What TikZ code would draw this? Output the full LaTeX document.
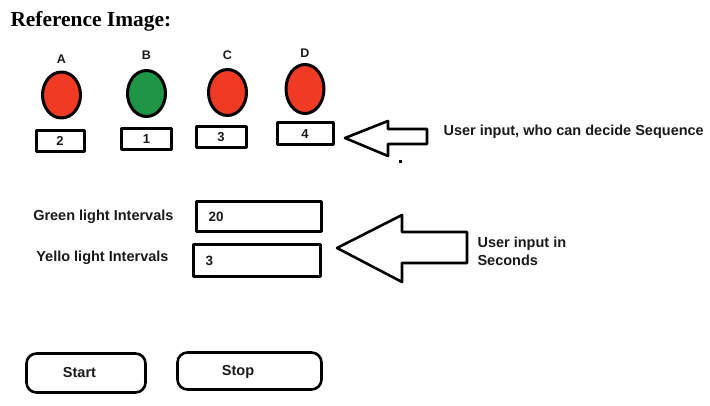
\documentclass[tikz,border=0pt]{standalone}
\usepackage{fontspec}
\setmainfont{Liberation Sans}
\newfontfamily\titlefont{Liberation Serif}
\usetikzlibrary{shapes.geometric,positioning}
\definecolor{lampred}{HTML}{F03A24}
\definecolor{lampgreen}{HTML}{1E9447}
\definecolor{ink}{HTML}{1A1A1A}

\begin{document}
\begin{tikzpicture}[x=1pt, y=-1pt, on grid, line join=round, text=ink,
   lamp/.style={ellipse, draw=black, line width=3pt, minimum width=38pt, minimum height=46pt, inner sep=0pt},
   lamplbl/.style={font=\fontsize{12.5}{14}\selectfont\bfseries},
   seqbox/.style={rectangle, draw=black, line width=3pt, minimum width=50pt, minimum height=21pt, inner sep=0pt, font=\fontsize{13}{15}\selectfont\bfseries},
   field/.style={rectangle, draw=black, line width=3pt, text width=101pt, inner xsep=12pt, inner ysep=0pt, minimum height=30pt, align=left, font=\fontsize{13.5}{15}\selectfont\bfseries},
   txt/.style={font=\fontsize{14.5}{17.4}\selectfont\bfseries, align=left},
   btn/.style={rectangle, rounded corners=10pt, draw=black, line width=2.6pt, inner sep=0pt},
   bigarrow/.style={draw=black, line width=2.6pt, fill=white}]
   \useasboundingbox (0,0) rectangle (710,406);

   \node[anchor=base west, text=black, font=\titlefont\bfseries\fontsize{21.4}{24}\selectfont] (title) at (7,27) {Reference Image:};

   \node[lamp, fill=lampred]   (l_A) at (61.5,95)  {};
   \node[lamp, fill=lampgreen] (l_B) at (146.5,93.5) {};
   \node[lamp, fill=lampred]   (l_C) at (227.5,92.5) {};
   \node[lamp, fill=lampred, minimum height=49pt] (l_D) at (305,89) {};
   \node[lamplbl] (t_A) [above=36pt of l_A] {A};
   \node[lamplbl] (t_B) [above=38pt of l_B] {B};
   \node[lamplbl] (t_C) [above=37pt of l_C] {C};
   \node[lamplbl] (t_D) [above=36pt of l_D] {D};
   \node[seqbox, minimum width=48pt] (n_A) [below=46pt of l_A, xshift=-1.5pt] {2};
   \node[seqbox] (n_B) [below=45.5pt of l_B] {1};
   \node[seqbox] (n_C) [below=44.5pt of l_C, xshift=-6.5pt] {3};
   \node[seqbox, minimum width=56pt, minimum height=22pt] (n_D) [below=45pt of l_D] {4};

   \draw[bigarrow] (345,138) -- (388,121) -- (388,129) -- (427,129) -- (427,144) -- (388,144) -- (388,156) -- cycle;
   \fill[black] (398.5,160.5) rectangle (401.5,163.5);
   \node[txt, anchor=west] (seq) at (440,132) {User input, who can decide Sequence};

   \node[field] (green) at (259,216.5) {20};
   \node[field, minimum height=32pt, text width=103pt] (yellow) at (257,260.5) {3};
   \node[txt, anchor=east] (t_green) at (177,217) {Green light Intervals};
   \node[txt, anchor=east] (t_yellow) at (172,258) {Yello light Intervals};

   \draw[bigarrow] (337,248) -- (402,215) -- (402,232) -- (467,232) -- (467,263) -- (402,263) -- (402,282) -- cycle;
   \node[txt, anchor=west] (secs) at (474,251.5) {User input in\\Seconds};

   \node[btn, minimum width=119pt, minimum height=39pt] (start) at (86,373) {};
   \node[txt] (t_start) at ([xshift=-6.5pt]start.center) {Start};
   \node[btn, minimum width=144pt, minimum height=37pt] (stop) at (249.5,371) {};
   \node[txt] (t_stop) at ([xshift=-11.5pt, yshift=-1pt]stop.center) {Stop};
\end{tikzpicture}
\end{document}
